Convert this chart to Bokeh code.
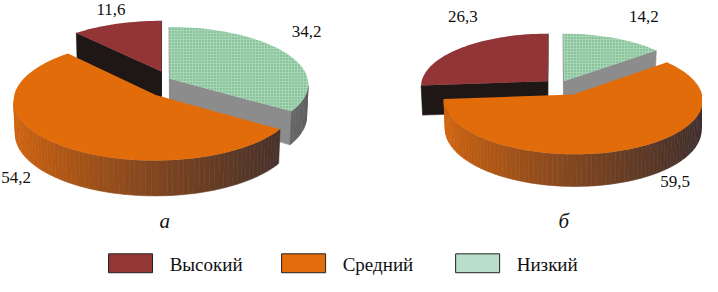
import math
from bokeh.plotting import figure
from bokeh.models import Range1d, ColumnDataSource
from bokeh.core.properties import value
from bokeh.embed import file_html
from bokeh.resources import INLINE

# ---- data ----
categories = ["Высокий", "Средний", "Низкий"]
values_a = [11.6, 54.2, 34.2]
values_b = [26.3, 59.5, 14.2]
panel_labels = ["а", "б"]

# ---- styles ----
FONT = value("'Liberation Serif', 'Times New Roman', serif")
top_colors = ["#933536", "#E36C0A", "#A6D6B5"]
legend_colors = ["#943634", "#E46C0A", "#B9DEC9"]
cut_colors = ["#1F1616", "#A04A10", "#8C8C8C"]
side_colors = ["#2A1C1C", None, "#7C7C7C"]
clock_order = [2, 1, 0]  # clockwise from 12 o'clock

SIN = 0.43
COS = math.sqrt(1 - SIN ** 2)
DIST = 10.0
THICK = 0.27


def hex2rgb(h):
    h = h.lstrip("#")
    return tuple(int(h[i:i + 2], 16) for i in (0, 2, 4))


def lerp_col(c1, c2, f):
    a, b = hex2rgb(c1), hex2rgb(c2)
    return "#%02x%02x%02x" % tuple(int(round(a[i] + (b[i] - a[i]) * f)) for i in range(3))


def proj(cx, cy, R, X, Z, Y):
    yc = Z * SIN + Y * COS
    zc = DIST + Z * COS - Y * SIN
    s = DIST / zc
    return cx + R * X * s, cy - R * yc * s, zc


def area(xs, ys):
    a = 0.0
    n = len(xs)
    for i in range(n):
        j = (i + 1) % n
        a += xs[i] * ys[j] - xs[j] * ys[i]
    return a / 2


def build_pie(vals, cx, cy, R, offsets):
    total = sum(vals)
    sides, tops = [], []

    def quad(pts):
        xs, ys, zs = [], [], []
        for (X, Z, Y) in pts:
            x, y, z = proj(cx, cy, R, X, Z, Y)
            xs.append(x); ys.append(y); zs.append(z)
        return xs, ys, sum(zs) / len(zs)

    t = math.pi
    rx, ry, _ = quad([(math.sin(t), math.cos(t), 0), (math.sin(t + .1), math.cos(t + .1), 0),
                      (math.sin(t + .1), math.cos(t + .1), -THICK), (math.sin(t), math.cos(t), -THICK)])
    ref_sign = 1 if area(rx, ry) > 0 else -1

    start = 0.0
    for ci in clock_order:
        frac = vals[ci] / total
        t0 = start
        t1 = start + frac * 2 * math.pi
        start = t1
        ox, oz = offsets[ci]
        n = max(4, int(frac * 180))
        ts = [t0 + (t1 - t0) * k / n for k in range(n + 1)]
        rim = [(ox + math.sin(a), oz + math.cos(a)) for a in ts]
        for k in range(n):
            (x0, z0), (x1, z1) = rim[k], rim[k + 1]
            xs, ys, d = quad([(x0, z0, 0), (x1, z1, 0), (x1, z1, -THICK), (x0, z0, -THICK)])
            if area(xs, ys) * ref_sign > 0:
                sm = math.sin((ts[k] + ts[k + 1]) / 2)
                if side_colors[ci] is None:
                    f = (sm + 1) / 2
                    col = lerp_col("#D5650E", "#3C2D2D", f ** 0.85)
                elif ci == 2:
                    col = lerp_col(side_colors[ci], "#5C5C5C", max(0, sm) ** 2)
                else:
                    col = side_colors[ci]
                sides.append((d, xs, ys, col))
        r1 = rim[-1]
        xs, ys, d = quad([(r1[0], r1[1], 0), (ox, oz, 0), (ox, oz, -THICK), (r1[0], r1[1], -THICK)])
        if area(xs, ys) * ref_sign > 0:
            sides.append((d, xs, ys, cut_colors[ci]))
        r0 = rim[0]
        xs, ys, d = quad([(ox, oz, 0), (r0[0], r0[1], 0), (r0[0], r0[1], -THICK), (ox, oz, -THICK)])
        if area(xs, ys) * ref_sign > 0:
            sides.append((d, xs, ys, cut_colors[ci]))
        xs, ys, d = quad([(ox, oz, 0)] + [(x, z, 0) for (x, z) in rim])
        tops.append((d, xs, ys, ci))
    sides.sort(key=lambda s: -s[0])
    tops.sort(key=lambda s: -s[0])
    return sides, tops


p = figure(width=702, height=276, x_range=Range1d(0, 718), y_range=Range1d(292, 0),
           output_backend="svg", toolbar_location=None, min_border=0)
p.axis.visible = False
p.grid.visible = False
p.outline_line_color = None
p.background_fill_color = "white"

# (values, centre x, centre y, radius, slice offsets [Высокий, Средний, Низкий])
pies = [
    (values_a, 166, 92, 143, [(-0.01, 0.28), (-0.05, -0.13), (0.05, 0.15)]),
    (values_b, 566, 91, 130, [(-0.05, 0.10), (0.15, -0.15), (0.08, 0.10)]),
]
for vals, cx, cy, R, offs in pies:
    sides, tops = build_pie(vals, cx, cy, R, offs)
    src = ColumnDataSource(dict(xs=[s[1] for s in sides], ys=[s[2] for s in sides],
                                c=[s[3] for s in sides]))
    p.patches("xs", "ys", source=src, fill_color="c", line_color="c", line_width=0.6)
    for d, xs, ys, ci in tops:
        if ci == 2:
            p.patch(xs, ys, fill_color=top_colors[ci], line_color=None,
                    hatch_pattern="dot", hatch_color="#3A8A58", hatch_alpha=0.65, hatch_scale=3)
        else:
            p.patch(xs, ys, fill_color=top_colors[ci], line_color=None)


def fmt(v):
    return ("%.1f" % v).replace(".", ",")


label_pos_a = [(113, 9), (16, 187), (313, 33)]
label_pos_b = [(473, 17), (690, 192), (658, 17)]
lx, ly, lt = [], [], []
for vals, pos in ((values_a, label_pos_a), (values_b, label_pos_b)):
    for v, (x, y) in zip(vals, pos):
        lx.append(x); ly.append(y); lt.append(fmt(v))
p.text(lx, ly, text=lt, text_font=FONT, text_font_size="17px",
       text_color="#111111", text_align="center", text_baseline="middle")

p.text([168, 576], [233, 233], text=panel_labels, text_font=FONT,
       text_font_size="21px", text_font_style="italic", text_color="#111111",
       text_align="center", text_baseline="middle")

box_x = [133, 310, 488]
p.rect(box_x, [278] * 3, width=45, height=20, fill_color=legend_colors, line_color="#222222", line_width=1)
p.text([x + 40 for x in box_x], [279] * 3, text=categories, text_font=FONT,
       text_font_size="19px", text_color="#111111", text_align="left", text_baseline="middle")

open("out.html", "w").write(file_html(p, INLINE))
